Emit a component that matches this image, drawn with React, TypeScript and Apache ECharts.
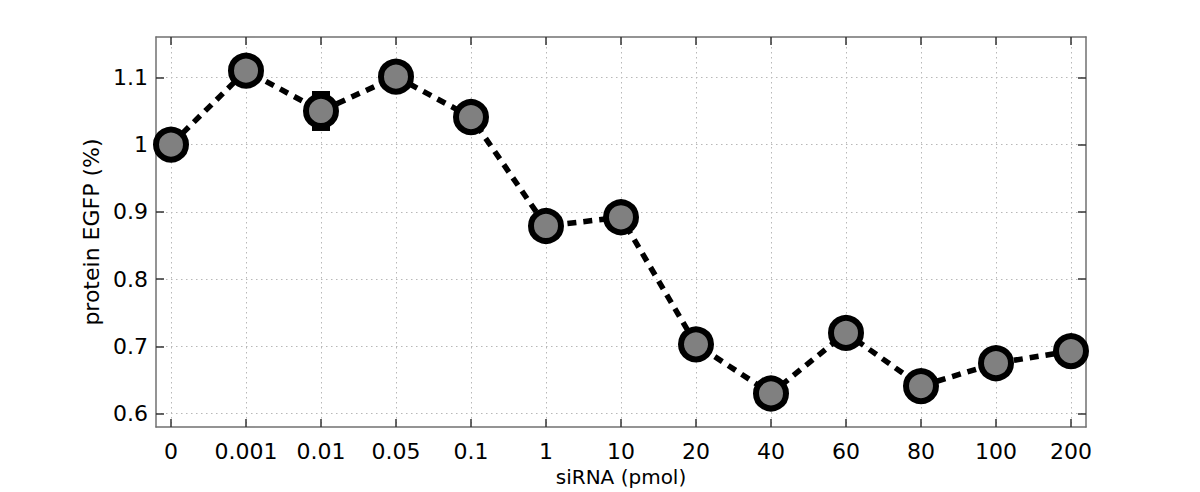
import React, { useEffect, useRef } from "react";
import * as echarts from "echarts";

const categories = ["0", "0.001", "0.01", "0.05", "0.1", "1", "10", "20", "40", "60", "80", "100", "200"];
const values = [1.0, 1.11, 1.05, 1.101, 1.041, 0.879, 0.892, 0.703, 0.63, 0.72, 0.641, 0.675, 0.693];
const errors = [0, 0, 0.026, 0, 0, 0, 0, 0, 0, 0, 0, 0, 0];
const yTicks = [0.6, 0.7, 0.8, 0.9, 1, 1.1];
const yTickLabels = ["0.6", "0.7", "0.8", "0.9", "1", "1.1"];
const xAxisName = "siRNA (pmol)";
const yAxisName = "protein EGFP (%)";

const FONT = "DejaVu Sans";

export default function App() {
  const ref = useRef<HTMLDivElement>(null);
  useEffect(() => {
    if (!ref.current) return;
    const chart = echarts.init(ref.current, null, { renderer: "svg" });
    const xIdx = categories.map((_, i) => i);
    const gridLine = { show: true, lineStyle: { color: "#b8b8b8", width: 1, type: [1.5, 3.5] as any } };
    const axisLine = { show: true, onZero: false, lineStyle: { color: "#707070", width: 1.5 } };
    const axisTick = (vals: number[]) => ({
      show: true,
      inside: true,
      length: 8,
      customValues: vals,
      lineStyle: { color: "#333", width: 1.5 },
    });
    const option: any = {
      animation: false,
      backgroundColor: "#ffffff",
      grid: { left: 156, top: 37, width: 930, height: 396, containLabel: false },
      xAxis: [
        {
          type: "value",
          position: "bottom",
          min: -0.2,
          max: 12.2,
          axisLine,
          axisTick: axisTick(xIdx),
          splitLine: gridLine,
          axisLabel: {
            show: true,
            customValues: xIdx,
            margin: 13,
            color: "#000",
            fontFamily: FONT,
            fontSize: 22,
            formatter: (v: number) => categories[Math.round(v)] ?? "",
          },
          name: xAxisName,
          nameLocation: "middle",
          nameGap: 31,
          nameTextStyle: { color: "#000", fontFamily: FONT, fontSize: 20 },
        },
        {
          type: "value",
          position: "top",
          min: -0.2,
          max: 12.2,
          axisLine,
          axisTick: axisTick(xIdx),
          splitLine: { show: false },
          axisLabel: { show: false },
        },
      ],
      yAxis: [
        {
          type: "value",
          position: "left",
          min: 0.58,
          max: 1.16,
          axisLine,
          axisTick: axisTick(yTicks),
          splitLine: gridLine,
          axisLabel: {
            show: true,
            customValues: yTicks,
            margin: 8,
            color: "#000",
            fontFamily: FONT,
            fontSize: 22,
            formatter: (v: number) => {
              const i = yTicks.findIndex((t) => Math.abs(t - v) < 1e-6);
              return i >= 0 ? yTickLabels[i] : "";
            },
          },
          name: yAxisName,
          nameLocation: "middle",
          nameGap: 46,
          nameRotate: 90,
          nameTextStyle: { color: "#000", fontFamily: FONT, fontSize: 22 },
        },
        {
          type: "value",
          position: "right",
          min: 0.58,
          max: 1.16,
          axisLine,
          axisTick: axisTick(yTicks),
          splitLine: { show: false },
          axisLabel: { show: false },
        },
      ],
      series: [
        {
          type: "custom",
          z: 1,
          xAxisIndex: 0,
          yAxisIndex: 0,
          data: values.map((v, i) => [i, v, errors[i]]),
          renderItem: (params: any, api: any) => {
            const err = api.value(2);
            if (!err) return null;
            const x = api.value(0);
            const v = api.value(1);
            const top = api.coord([x, v + err]);
            const bot = api.coord([x, v - err]);
            const hw = 9;
            const style = { stroke: "#000", lineWidth: 5 };
            return {
              type: "group",
              children: [
                { type: "line", shape: { x1: top[0], y1: top[1], x2: bot[0], y2: bot[1] }, style },
                { type: "line", shape: { x1: top[0] - hw, y1: top[1], x2: top[0] + hw, y2: top[1] }, style },
                { type: "line", shape: { x1: bot[0] - hw, y1: bot[1], x2: bot[0] + hw, y2: bot[1] }, style },
              ],
            };
          },
        },
        {
          type: "line",
          z: 2,
          xAxisIndex: 0,
          yAxisIndex: 0,
          data: values.map((v, i) => [i, v]),
          lineStyle: { color: "#000", width: 5.5, type: [9, 7] as any },
          symbol: "circle",
          symbolSize: 30,
          showAllSymbol: true,
          itemStyle: { color: "#808080", borderColor: "#000", borderWidth: 6 },
        },
      ],
    };
    chart.setOption(option);
    return () => chart.dispose();
  }, []);
  return (
    <div
      ref={ref}
      style={{ position: "absolute", left: 0, top: 0, width: 1200, height: 492, background: "#fff" }}
    />
  );
}
